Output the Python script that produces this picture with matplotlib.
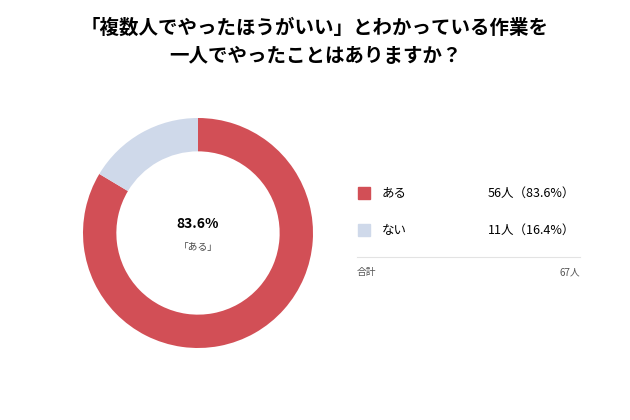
import matplotlib
matplotlib.use("Agg")
import matplotlib.pyplot as plt

plt.rcParams['font.family'] = ['Noto Sans CJK JP', 'DejaVu Sans']

labels = ["ある", "ない"]
counts = [56, 11]
pcts = [83.6, 16.4]
total = 67
colors = ["#D24F56", "#CFD9EA"]

W, H = 630, 420
fig = plt.figure(figsize=(W / 100, H / 100), dpi=100)

fig.text(0.5, 1 - 28 / H, "「複数人でやったほうがいい」とわかっている作業を",
         ha="center", va="center", fontsize=14, fontweight="bold")
fig.text(0.5, 1 - 56 / H, "一人でやったことはありますか？",
         ha="center", va="center", fontsize=14, fontweight="bold")

# donut
cx, cy, r = 198, 233, 115
ax = fig.add_axes([(cx - r) / W, 1 - (cy + r) / H, 2 * r / W, 2 * r / H])
ax.pie(counts, colors=colors, startangle=90, counterclock=False,
       wedgeprops=dict(width=0.29, edgecolor="none"))
ax.set_xlim(-1, 1)
ax.set_ylim(-1, 1)
ax.set_aspect("equal")
ax.text(0, 0.08, f"{pcts[0]}%", ha="center", va="center", fontsize=10, fontweight="bold")
ax.text(0, -0.12, "「ある」", ha="center", va="center", fontsize=7, color="#444444")

# legend table
for i, (lab, c, p, col) in enumerate(zip(labels, counts, pcts, colors)):
    y = 1 - (193 + 37 * i) / H
    fig.patches.append(plt.Rectangle((358 / W, y - 6 / H), 12 / W, 12 / H,
                                     transform=fig.transFigure, color=col))
    fig.text(382 / W, y, lab, ha="left", va="center", fontsize=9)
    fig.text(575 / W, y, f"{c}人（{p}%）", ha="right", va="center", fontsize=9)

fig.add_artist(plt.Line2D([357 / W, 580 / W], [1 - 257 / H] * 2,
                          transform=fig.transFigure, color="#E3E3E3", lw=0.8))
fig.text(357 / W, 1 - 272 / H, "合計", ha="left", va="center", fontsize=7, color="#555555")
fig.text(580 / W, 1 - 272 / H, f"{total}人", ha="right", va="center", fontsize=7, color="#555555")

fig.savefig("out.png", dpi=100, facecolor="white")
